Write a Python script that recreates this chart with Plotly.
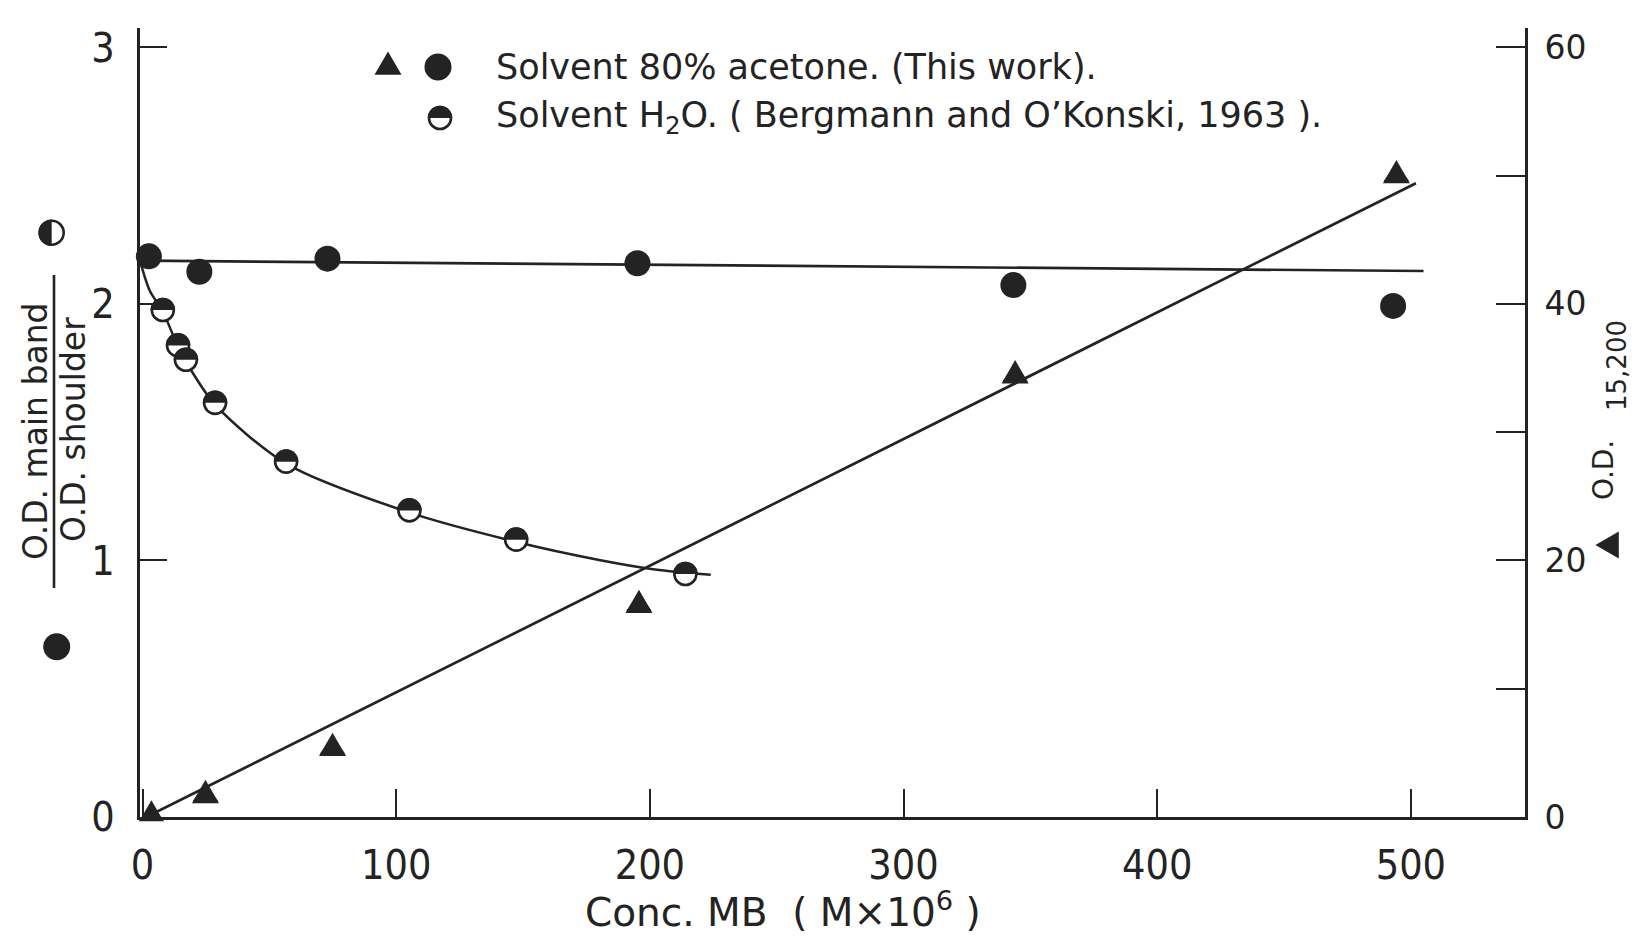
import plotly.graph_objects as go

# Methylene blue concentration (M x 10^6) and measured quantities
acetone_conc = [2.5, 22.4, 72.9, 195.1, 343.3, 493.0]
acetone_ratio = [2.185, 2.125, 2.176, 2.158, 2.073, 1.992]

acetone_od_conc = [3.5, 24.8, 74.9, 195.7, 344.0, 494.3]
acetone_od = [0.1, 1.68, 5.36, 16.5, 34.4, 50.0]

water_conc = [8.0, 14.0, 17.1, 28.6, 56.6, 105.2, 147.3, 214.0]
water_ratio = [1.976, 1.838, 1.782, 1.614, 1.385, 1.195, 1.081, 0.947]

# Drawn trend lines
ratio_line_conc = [0, 505]
ratio_line_vals = [2.168, 2.128]
od_line_conc = [1.5, 502]
od_line_vals = [0.0, 49.4]
water_curve_conc = [-0.5, 2.9, 8, 14, 17, 28.6, 56.6, 105, 147, 180, 202, 224]
water_curve_vals = [2.15, 2.05, 1.97, 1.832, 1.776, 1.607, 1.377, 1.187, 1.073, 1.002, 0.965, 0.944]

x_ticks = [0, 100, 200, 300, 400, 500]
left_ticks = [0, 1, 2, 3]
right_ticks = [0, 20, 40, 60]

INK = "#232323"
TEXT_FONT = "DejaVu Sans"
NARROW_FONT = "Liberation Sans Narrow, DejaVu Sans Condensed, Arial Narrow, DejaVu Sans"

W, H = 1635, 937
M_L, M_R, M_T, M_B = 140, 110, 28, 120
PW = W - M_L - M_R
PH = H - M_T - M_B


def px(xpix):
    return (xpix - M_L) / PW


def py(ypix):
    return (H - M_B - ypix) / PH


K = 0.5523


def upper_half(r):
    k = K * r
    return f"M{-r},0 C{-r},{k} {-k},{r} 0,{r} C{k},{r} {r},{k} {r},0 Z"


def left_half(r):
    k = K * r
    return f"M0,{r} C{-k},{r} {-r},{k} {-r},0 C{-r},{-k} {-k},{-r} 0,{-r} Z"


def tri_up(s):
    h = s * 0.866
    return f"M{-s/2},{-h/3} L{s/2},{-h/3} L0,{2*h/3} Z"


def tri_left(s):
    h = s * 0.866
    return f"M{-2*h/3},0 L{h/3},{s/2} L{h/3},{-s/2} Z"


fig = go.Figure()

# trend lines
fig.add_trace(go.Scatter(x=ratio_line_conc, y=ratio_line_vals, mode="lines",
                         line=dict(color=INK, width=2.7), yaxis="y", hoverinfo="skip"))
fig.add_trace(go.Scatter(x=od_line_conc, y=od_line_vals, mode="lines",
                         line=dict(color=INK, width=2.7), yaxis="y2", hoverinfo="skip"))
fig.add_trace(go.Scatter(x=water_curve_conc, y=water_curve_vals, mode="lines",
                         line=dict(color=INK, width=2.5, shape="spline", smoothing=0.8),
                         yaxis="y", hoverinfo="skip"))

# data points
fig.add_trace(go.Scatter(x=acetone_conc, y=acetone_ratio, mode="markers", yaxis="y",
                         marker=dict(symbol="circle", size=26, color=INK, line=dict(width=0)),
                         cliponaxis=False))
fig.add_trace(go.Scatter(x=acetone_od_conc, y=acetone_od, mode="markers", yaxis="y2",
                         marker=dict(symbol="triangle-up", size=22, color=INK, line=dict(width=0)),
                         cliponaxis=False))
fig.add_trace(go.Scatter(x=water_conc, y=water_ratio, mode="markers", yaxis="y",
                         marker=dict(symbol="circle", size=22, color="white",
                                     line=dict(width=2.6, color=INK)),
                         cliponaxis=False))

shapes = []
# upper halves of the water-solvent markers
for xv, yv in zip(water_conc, water_ratio):
    shapes.append(dict(type="path", xref="x", yref="y", xsizemode="pixel", ysizemode="pixel",
                       xanchor=xv, yanchor=yv, path=upper_half(12.3),
                       fillcolor=INK, line=dict(width=0), layer="above"))
# equilateral outline for the triangle markers
for xv, yv in zip(acetone_od_conc, acetone_od):
    shapes.append(dict(type="path", xref="x", yref="y2", xsizemode="pixel", ysizemode="pixel",
                       xanchor=xv, yanchor=yv, path=tri_up(27),
                       fillcolor=INK, line=dict(width=0), layer="above"))

# key symbols
shapes.append(dict(type="path", xref="paper", yref="paper", xsizemode="pixel", ysizemode="pixel",
                   xanchor=px(388), yanchor=py(67), path=tri_up(27),
                   fillcolor=INK, line=dict(width=0)))
shapes.append(dict(type="circle", xref="paper", yref="paper", xsizemode="pixel", ysizemode="pixel",
                   xanchor=px(438), yanchor=py(67), x0=-13.5, x1=13.5, y0=-13.5, y1=13.5,
                   fillcolor=INK, line=dict(width=0)))
shapes.append(dict(type="circle", xref="paper", yref="paper", xsizemode="pixel", ysizemode="pixel",
                   xanchor=px(440), yanchor=py(118), x0=-11, x1=11, y0=-11, y1=11,
                   fillcolor="white", line=dict(width=2.6, color=INK)))
shapes.append(dict(type="path", xref="paper", yref="paper", xsizemode="pixel", ysizemode="pixel",
                   xanchor=px(440), yanchor=py(118), path=upper_half(12.3),
                   fillcolor=INK, line=dict(width=0)))

# left axis title symbols and fraction bar
shapes.append(dict(type="circle", xref="paper", yref="paper", xsizemode="pixel", ysizemode="pixel",
                   xanchor=px(51.7), yanchor=py(232.7), x0=-12, x1=12, y0=-12, y1=12,
                   fillcolor="white", line=dict(width=2.6, color=INK)))
shapes.append(dict(type="path", xref="paper", yref="paper", xsizemode="pixel", ysizemode="pixel",
                   xanchor=px(51.7), yanchor=py(232.7), path=left_half(13.3),
                   fillcolor=INK, line=dict(width=0)))
shapes.append(dict(type="circle", xref="paper", yref="paper", xsizemode="pixel", ysizemode="pixel",
                   xanchor=px(56.7), yanchor=py(646.7), x0=-13.5, x1=13.5, y0=-13.5, y1=13.5,
                   fillcolor=INK, line=dict(width=0)))
shapes.append(dict(type="line", xref="paper", yref="paper",
                   x0=px(54), x1=px(54), y0=py(275), y1=py(588),
                   line=dict(width=2.6, color=INK)))

# right axis title symbol
shapes.append(dict(type="path", xref="paper", yref="paper", xsizemode="pixel", ysizemode="pixel",
                   xanchor=px(1611), yanchor=py(545), path=tri_left(27),
                   fillcolor=INK, line=dict(width=0)))

annotations = [
    dict(text="Solvent 80% acetone. (This work).", x=px(494), y=py(67),
         xanchor="left", yanchor="middle", font=dict(family=TEXT_FONT, size=35, color=INK)),
    dict(text="Solvent H<sub>2</sub>O. ( Bergmann and O\u2019Konski, 1963 ).", x=px(494), y=py(117),
         xanchor="left", yanchor="middle", font=dict(family=TEXT_FONT, size=35, color=INK)),
    dict(text="Conc. MB  ( M\u00d710<sup>6</sup> )", x=px(783), y=py(910),
         xanchor="center", yanchor="middle", font=dict(family=TEXT_FONT, size=39, color=INK)),
    dict(text="O.D. main band", x=px(36), y=py(431), textangle=-90,
         xanchor="center", yanchor="middle", font=dict(family=TEXT_FONT, size=33, color=INK)),
    dict(text="O.D. shoulder", x=px(73), y=py(430), textangle=-90,
         xanchor="center", yanchor="middle", font=dict(family=TEXT_FONT, size=33, color=INK)),
    dict(text="O.D.", x=px(1603), y=py(470), textangle=-90,
         xanchor="center", yanchor="middle", font=dict(family=TEXT_FONT, size=28, color=INK)),
    dict(text="15,200", x=px(1617), y=py(366), textangle=-90,
         xanchor="center", yanchor="middle", font=dict(family=TEXT_FONT, size=26, color=INK)),
]
for a in annotations:
    a.update(xref="paper", yref="paper", showarrow=False)

fig.update_layout(
    width=W, height=H,
    margin=dict(l=M_L, r=M_R, t=M_T, b=M_B, pad=0),
    paper_bgcolor="white", plot_bgcolor="white",
    showlegend=False,
    shapes=shapes,
    annotations=annotations,
    xaxis=dict(range=[-1, 545], showline=True, linewidth=3, linecolor=INK,
               ticks="inside", ticklen=28, tickwidth=2.4, tickcolor=INK,
               tickvals=x_ticks, tickfont=dict(family=NARROW_FONT, size=41, color=INK),
               ticklabelstandoff=10, showgrid=False, zeroline=False),
    yaxis=dict(range=[0, 3.075], showline=True, linewidth=3, linecolor=INK,
               ticks="inside", ticklen=27, tickwidth=2.4, tickcolor=INK,
               tickvals=left_ticks, tickfont=dict(family=NARROW_FONT, size=41, color=INK),
               ticklabelstandoff=14, showgrid=False, zeroline=False),
    yaxis2=dict(range=[0, 61.5], overlaying="y", side="right", anchor="x",
                showline=True, linewidth=3, linecolor=INK,
                ticks="inside", ticklen=29, tickwidth=2.4, tickcolor=INK,
                tickvals=right_ticks,
                minor=dict(dtick=10, tick0=0, ticks="inside", ticklen=29,
                           tickwidth=2.4, tickcolor=INK),
                tickfont=dict(family=TEXT_FONT, size=33, color=INK),
                ticklabelstandoff=10, showgrid=False, zeroline=False),
)

fig.write_html("out.html")
